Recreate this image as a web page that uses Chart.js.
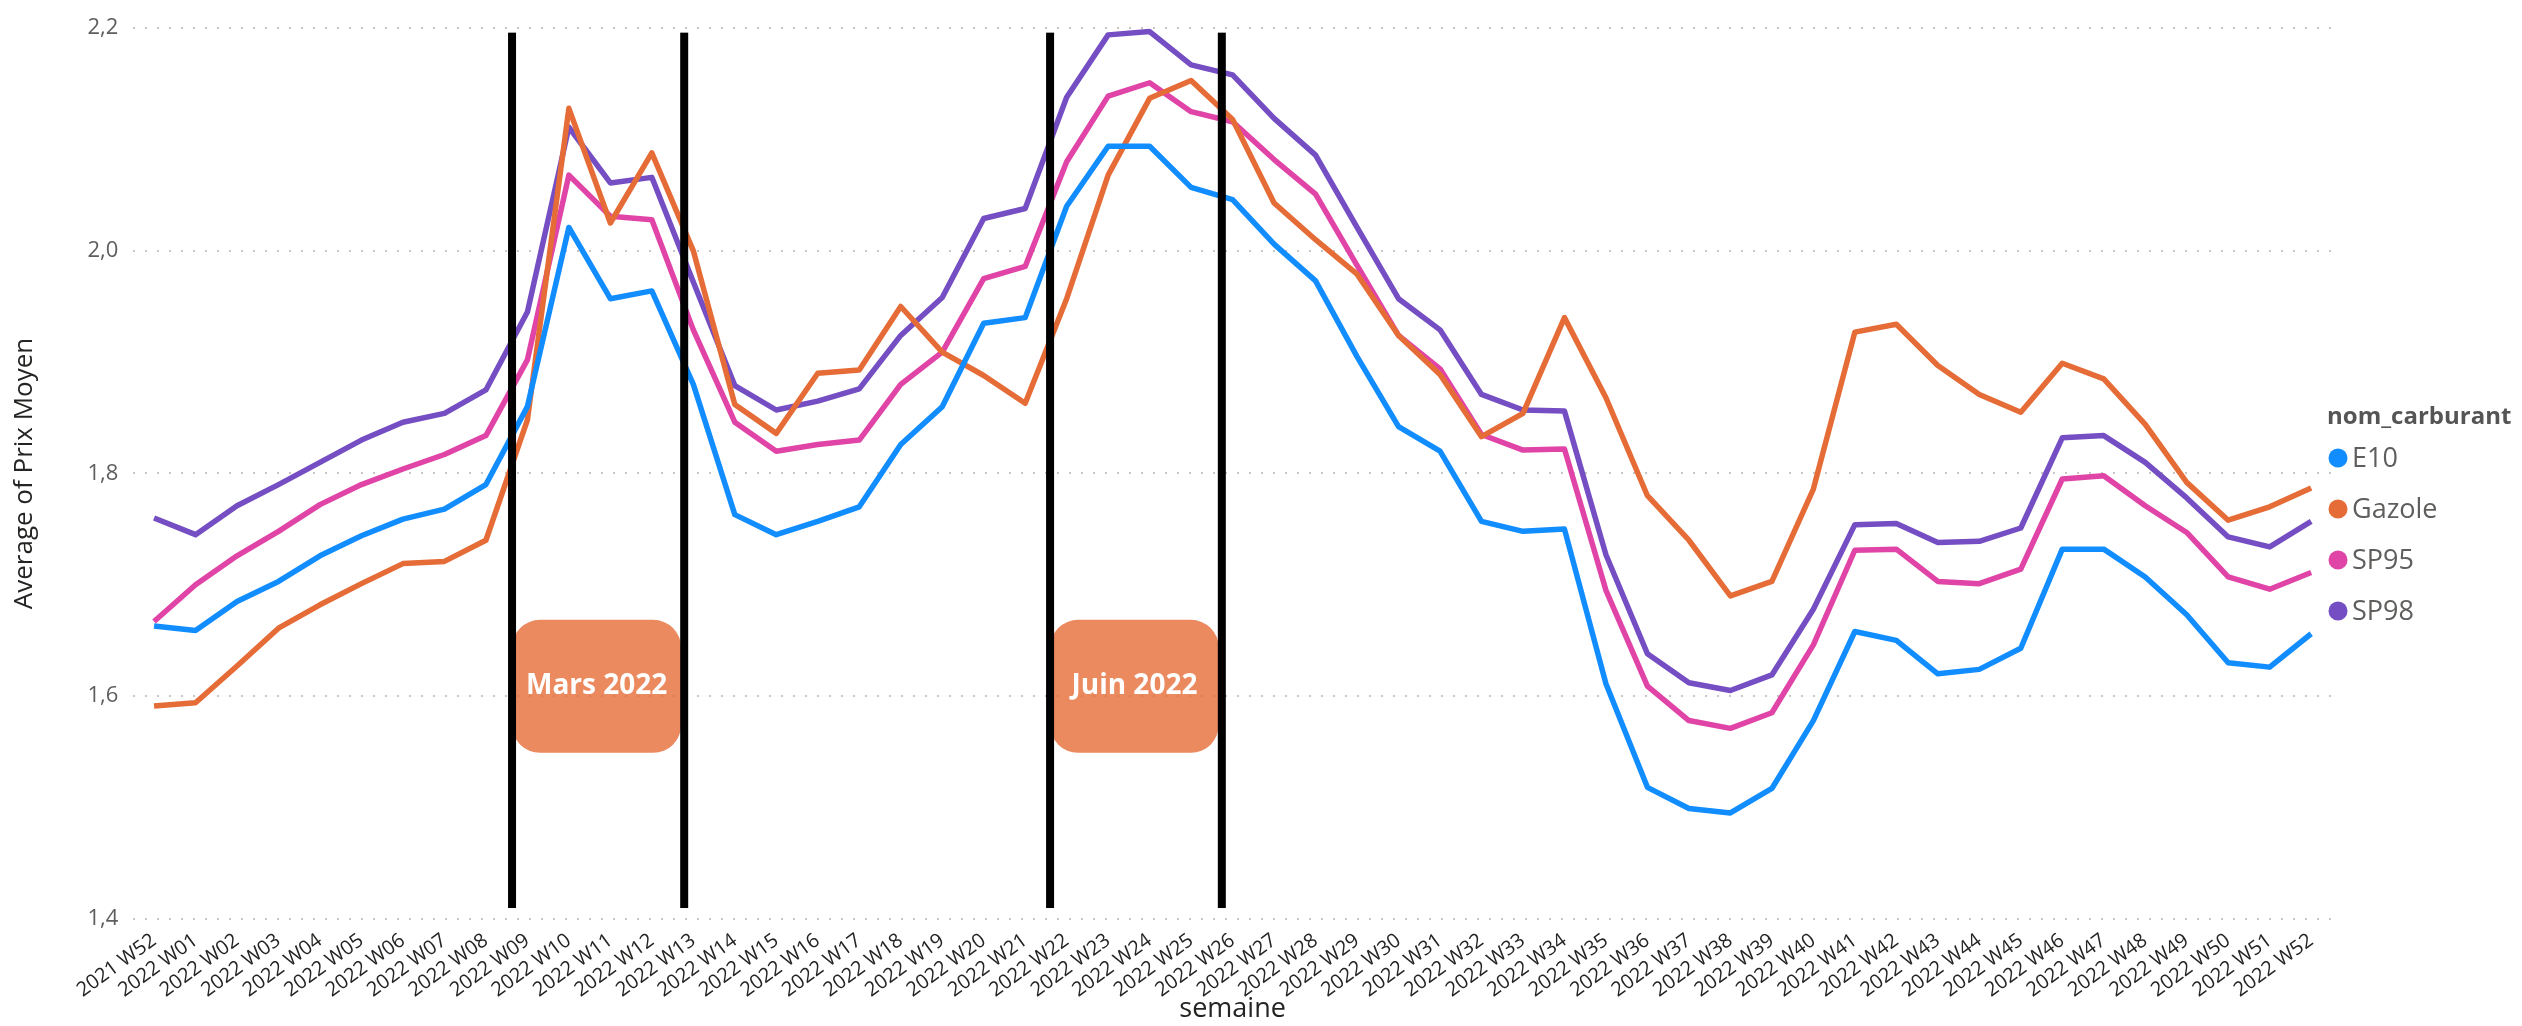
<!DOCTYPE html>
<html>
<head>
<meta charset="utf-8">
<script src="https://cdn.jsdelivr.net/npm/chart.js@4.4.1/dist/chart.umd.min.js"></script>
<style>
html,body{margin:0;padding:0;background:#ffffff;}
#wrap{width:2522px;height:1026px;}
</style>
</head>
<body>
<div id="wrap"><canvas id="c" width="2522" height="1026"></canvas></div>
<script>
const categories = ['2021 W52','2022 W01','2022 W02','2022 W03','2022 W04','2022 W05','2022 W06','2022 W07','2022 W08','2022 W09','2022 W10',
  '2022 W11','2022 W12','2022 W13','2022 W14','2022 W15','2022 W16','2022 W17','2022 W18','2022 W19','2022 W20',
  '2022 W21','2022 W22','2022 W23','2022 W24','2022 W25','2022 W26','2022 W27','2022 W28','2022 W29','2022 W30',
  '2022 W31','2022 W32','2022 W33','2022 W34','2022 W35','2022 W36','2022 W37','2022 W38','2022 W39','2022 W40',
  '2022 W41','2022 W42','2022 W43','2022 W44','2022 W45','2022 W46','2022 W47','2022 W48','2022 W49','2022 W50',
  '2022 W51','2022 W52'];

const e10 = [1.663,1.659,1.685,1.703,1.726,1.744,1.759,1.768,1.790,1.860,2.021,
  1.957,1.964,1.880,1.763,1.745,1.757,1.770,1.826,1.860,1.935,
  1.940,2.040,2.094,2.094,2.057,2.046,2.006,1.973,1.905,1.842,
  1.820,1.757,1.748,1.750,1.611,1.518,1.499,1.495,1.517,1.578,
  1.658,1.650,1.620,1.624,1.643,1.732,1.732,1.707,1.673,1.630,
  1.626,1.656];

const gazole = [1.591,1.594,1.627,1.661,1.682,1.701,1.719,1.721,1.740,1.848,2.128,
  2.025,2.088,2.000,1.862,1.836,1.890,1.893,1.950,1.909,1.888,
  1.863,1.957,2.068,2.137,2.153,2.118,2.043,2.010,1.979,1.924,
  1.889,1.833,1.854,1.940,1.868,1.780,1.740,1.690,1.703,1.786,
  1.927,1.934,1.897,1.871,1.855,1.899,1.885,1.844,1.792,1.758,
  1.770,1.787];

const sp95 = [1.667,1.700,1.726,1.748,1.772,1.790,1.804,1.817,1.834,1.902,2.068,
  2.031,2.028,1.929,1.846,1.820,1.826,1.830,1.880,1.909,1.975,
  1.986,2.080,2.139,2.151,2.125,2.116,2.082,2.051,1.987,1.924,
  1.894,1.835,1.821,1.822,1.695,1.609,1.578,1.571,1.585,1.646,
  1.731,1.732,1.703,1.701,1.714,1.795,1.798,1.771,1.747,1.707,
  1.696,1.711];

const sp98 = [1.760,1.745,1.771,1.790,1.810,1.830,1.846,1.854,1.875,1.945,2.111,
  2.061,2.066,1.972,1.879,1.857,1.865,1.876,1.924,1.958,2.029,
  2.038,2.138,2.194,2.197,2.167,2.158,2.119,2.086,2.021,1.957,
  1.929,1.871,1.857,1.856,1.727,1.638,1.612,1.605,1.619,1.678,
  1.754,1.755,1.738,1.739,1.751,1.832,1.834,1.810,1.778,1.743,
  1.734,1.757];

const seriesNames = ['E10','Gazole','SP95','SP98'];
const yTickValues = [1.4,1.6,1.8,2.0,2.2];
const yTickLabels = ['1,4','1,6','1,8','2,0','2,2'];
const legendTitle = 'nom_carburant';
const xTitle = 'semaine';
const yTitle = 'Average of Prix Moyen';

// vertical rules, as positions on the category axis (index units)
const ruleTop = 2.196, ruleBottom = 1.4096;
const rulePositions = [8.63, 12.78, 21.60, 25.74];
// period boxes between pairs of rules
const periodLabels = ['Mars 2022', 'Juin 2022'];
const boxTop = 1.6685, boxBottom = 1.549;

const colors = ['#118DFF', '#E66C37', '#E044A7', '#744EC2'];
const FONT = "'Open Sans', 'Noto Sans', sans-serif";

const annotations = {
  id: 'annotations',
  afterDatasetsDraw(chart) {
    const ctx = chart.ctx, xs = chart.scales.x, ys = chart.scales.y;
    ctx.save();
    const yt = ys.getPixelForValue(boxTop), yb = ys.getPixelForValue(boxBottom);
    for (let k = 0; k < periodLabels.length; k++) {
      const xl = xs.getPixelForValue(rulePositions[2*k]);
      const xr = xs.getPixelForValue(rulePositions[2*k+1]) - 3;
      ctx.fillStyle = 'rgba(230,108,55,0.8)';
      ctx.beginPath();
      ctx.roundRect(xl, yt, xr - xl, yb - yt, 28);
      ctx.fill();
      ctx.fillStyle = '#ffffff';
      ctx.font = "bold 28px " + FONT;
      ctx.textAlign = 'center';
      ctx.textBaseline = 'middle';
      ctx.fillText(periodLabels[k], (xl + xr) / 2, (yt + yb) / 2);
    }
    ctx.fillStyle = '#000000';
    const rt = ys.getPixelForValue(ruleTop), rb = ys.getPixelForValue(ruleBottom);
    for (const p of rulePositions) {
      const x = xs.getPixelForValue(p);
      ctx.fillRect(x - 4, rt, 8, rb - rt);
    }
    ctx.restore();
  },
  afterDraw(chart) {
    const ctx = chart.ctx;
    ctx.save();
    ctx.textBaseline = 'middle';
    ctx.textAlign = 'left';
    ctx.fillStyle = '#555555';
    ctx.font = "bold 24px " + FONT;
    ctx.fillText(legendTitle, 2327, 417);
    ctx.font = "27px " + FONT;
    chart.data.datasets.forEach((ds, i) => {
      const cy = 458 + i * 51;
      ctx.fillStyle = ds.borderColor;
      ctx.beginPath();
      ctx.arc(2338, cy, 9.5, 0, Math.PI * 2);
      ctx.fill();
      ctx.fillStyle = '#605E5C';
      ctx.fillText(ds.label, 2352, cy + 1);
    });
    ctx.restore();
  }
};

const datasets = [e10, gazole, sp95, sp98].map((d, i) => ({
  label: seriesNames[i],
  data: d,
  borderColor: colors[i],
  backgroundColor: colors[i],
  borderWidth: 5.5,
  pointRadius: 0,
  pointHoverRadius: 0,
  tension: 0,
  fill: false,
  borderJoinStyle: 'round',
  borderCapStyle: 'butt'
}));

new Chart(document.getElementById('c'), {
  type: 'line',
  data: { labels: categories, datasets },
  plugins: [annotations],
  options: {
    responsive: false,
    animation: false,
    devicePixelRatio: 1,
    layout: { padding: { top: 22.7, right: 190.1, left: 0, bottom: 0 } },
    plugins: { legend: { display: false }, tooltip: { enabled: false } },
    scales: {
      x: {
        type: 'category',
        offset: true,
        grid: { display: false },
        border: { display: false },
        afterFit(scale) { scale.height = 107.3; },
        ticks: {
          autoSkip: false,
          minRotation: 36,
          maxRotation: 36,
          padding: 2,
          color: '#252423',
          font: { family: FONT, size: 20 }
        },
        title: {
          display: true,
          text: xTitle,
          color: '#252423',
          font: { family: FONT, size: 27 },
          padding: { top: 0, bottom: 0 }
        }
      },
      y: {
        min: 1.4,
        max: 2.2,
        afterFit(scale) { scale.width = 133.3; },
        afterBuildTicks(scale) { scale.ticks = yTickValues.map(v => ({ value: v })); },
        border: { display: false, dash: [2, 10] },
        grid: {
          color: '#C8C6C4',
          lineWidth: 2,
          drawTicks: false
        },
        ticks: {
          padding: 15,
          color: '#605E5C',
          font: { family: FONT, size: 22 },
          callback: (v) => { const i = yTickValues.findIndex(t => Math.abs(t - v) < 1e-9); return i >= 0 ? yTickLabels[i] : ''; }
        },
        title: {
          display: true,
          text: yTitle,
          color: '#252423',
          font: { family: FONT, size: 26 },
          padding: { top: 9, bottom: 0 }
        }
      }
    }
  }
});
</script>
</body>
</html>
